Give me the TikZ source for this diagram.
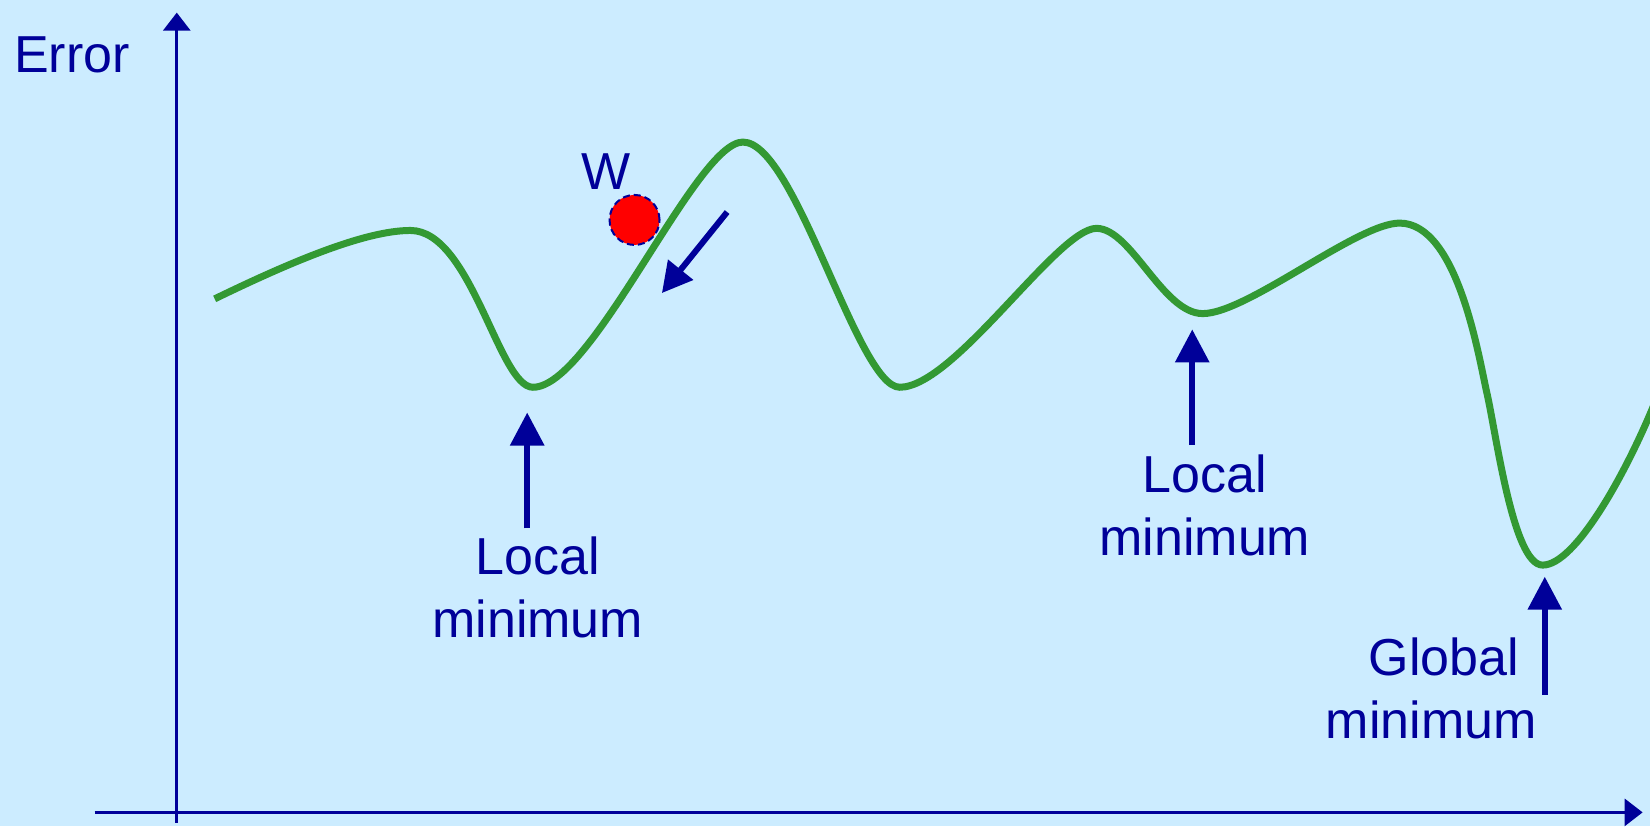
\documentclass[tikz,border=0pt]{standalone}
\usepackage{fontspec}
\setmainfont{Liberation Sans}
\usetikzlibrary{arrows.meta}
\definecolor{bg}{HTML}{CCECFF}
\definecolor{dblue}{HTML}{000099}
\definecolor{cgreen}{HTML}{339933}
\definecolor{cred}{HTML}{FF0000}
\tikzset{
  lbl/.style={text=dblue, inner sep=0pt, font=\fontsize{26}{31.6}\selectfont},
  axisline/.style={draw=dblue, line width=1.5pt, -{Triangle[width=13.5pt,length=9pt]}},
  minarrow/.style={draw=dblue, line width=3pt, -{Triangle[width=16.5pt,length=16.5pt]}},
  curve/.style={draw=cgreen, line width=3.5pt},
}
\begin{document}
\begin{tikzpicture}[x=0.52615pt, y=-0.52615pt]
\fill[bg] (0,0) rectangle (1568,785);
\useasboundingbox (0,0) rectangle (1568,785);
% axes
\coordinate (yb) at (168,782);
\coordinate (yt) at (168,12);
\coordinate (xl) at (90,772);
\coordinate (xr) at (1561,772);
\draw[axisline] (yb) -- (yt);
\draw[axisline] (xl) -- (xr);
\node[lbl, anchor=base west] (err) at (13,69) {Error};
% ball
\node[circle, fill=cred, draw=dblue, line width=1pt, dash pattern=on 3.5pt off 2pt, minimum size=25pt, inner sep=0pt] (ball) at (603,209) {};
\node[lbl, anchor=base] (w) at (576,180.5) {W};
% curve
\draw[curve] (204,284)
  .. controls (270,252) and (345,219) .. (390,219)
  .. controls (448,219) and (474,368) .. (506.5,368)
  .. controls (563,368) and (661,135) .. (706,135)
  .. controls (756,135) and (815,368) .. (855,368)
  .. controls (907,368) and (1005,217) .. (1042,217)
  .. controls (1075,217) and (1105,298) .. (1143,298)
  .. controls (1185,298) and (1290,212) .. (1330,212)
  .. controls (1385,212) and (1405,338) .. (1413,373.5)
  .. controls (1422,413) and (1438,537) .. (1466,537)
  .. controls (1497,537) and (1545,450) .. (1572,384);
% W arrow
\coordinate (wa) at (691,201.5);
\coordinate (wb) at (629,278.5);
\draw[draw=dblue, line width=3pt, -{Triangle[width=15.5pt,length=15pt]}] (wa) -- (wb);
% minima arrows and labels
\coordinate (a1b) at (501,502);
\coordinate (a1t) at (501,392);
\draw[minarrow] (a1b) -- (a1t);
\node[lbl, align=center, anchor=north] (l1) at (511,510) {Local\\minimum};
\coordinate (a2b) at (1133,423);
\coordinate (a2t) at (1133,313);
\draw[minarrow] (a2b) -- (a2t);
\node[lbl, align=center, anchor=north] (l2) at (1145,432) {Local\\minimum};
\coordinate (a3b) at (1468,660);
\coordinate (a3t) at (1468,548);
\draw[minarrow] (a3b) -- (a3t);
\node[lbl, align=center, anchor=north] (l3) at (1360,606) {\hspace*{12.6pt}Global\\minimum};
\end{tikzpicture}
\end{document}
